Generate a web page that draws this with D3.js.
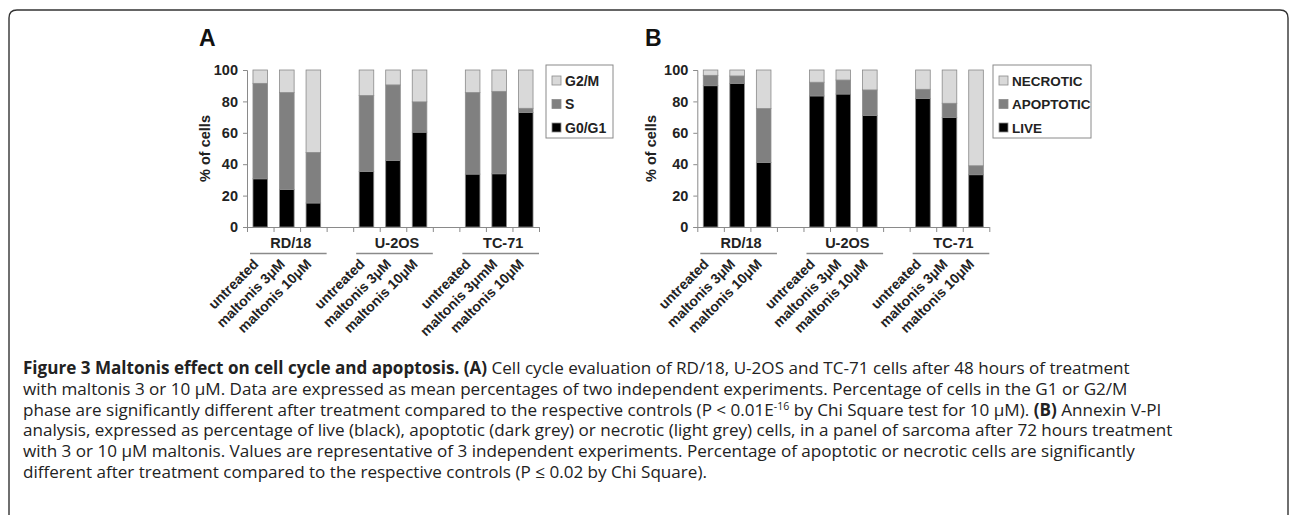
<!DOCTYPE html>
<html>
<head>
<meta charset="utf-8">
<script src="https://cdn.jsdelivr.net/npm/d3@7"></script>
<style>
  body { margin: 0; background: #fff; }
  svg text { font-family: "Liberation Sans", Arial, sans-serif; }
  .cap { font-family: "Open Sans", "Noto Sans", sans-serif; fill: #222; }
</style>
</head>
<body>
<script>
// categories
var groups = ['RD/18', 'U-2OS', 'TC-71'];
var labelsA = ['untreated', 'maltonis 3μM', 'maltonis 10μM',
               'untreated', 'maltonis 3μM', 'maltonis 10μM',
               'untreated', 'maltonis 3μmM', 'maltonis 10μM'];
var labelsB = ['untreated', 'maltonis 3μM', 'maltonis 10μM',
               'untreated', 'maltonis 3μM', 'maltonis 10μM',
               'untreated', 'maltonis 3μM', 'maltonis 10μM'];
var yTicks = [0, 20, 40, 60, 80, 100];

// panel A - cell cycle (%)
var g0g1   = [30.7, 23.9, 15.3, 35.4, 42.4, 60.4, 33.7, 33.9, 72.9];
var sPhase = [60.8, 61.7, 32.2, 48.3, 48.1, 19.3, 51.9, 52.5,  2.7];
var g2m    = [ 8.5, 14.4, 52.5, 16.3,  9.5, 20.3, 14.4, 13.6, 24.4];

// panel B - annexin V-PI (%)
var live      = [90.0, 91.5, 41.1, 83.5, 84.7, 71.0, 81.8, 69.7, 33.3];
var apoptotic = [ 6.6,  4.7, 34.3,  8.7,  8.9, 16.3,  5.9,  9.1,  5.7];
var necrotic  = [ 3.4,  3.8, 24.6,  7.8,  6.4, 12.7, 12.3, 21.2, 61.0];

var W = 1290, H = 515;
var black = '#000000', mid = '#808080', light = '#d9d9d9', edge = '#8a8a8a';

var svg = d3.select('body').append('svg')
    .attr('width', W)
    .attr('height', H)
;

// outer frame (open at the bottom)
svg.append('path')
    .attr('d', 'M9,' + (H + 5) + ' L9,18 Q9,10 17,10 L1280,10 Q1288,10 1288,18 L1288,' + (H + 5))
    .attr('fill', 'none')
    .attr('stroke', '#333')
    .attr('stroke-width', 1.4)
;

var plotTop = 70, plotBottom = 227, plotW = 292;

var drawPanel = function (p) {
    var rows = p.values[0].map(function (d, i) {
        var r = { i: i };
        p.keys.forEach(function (k, j) { r[k] = p.values[j][i]; });
        return r;
    });
    var series = d3.stack().keys(p.keys)(rows);

    // 11 slots: 3 bars, gap, 3 bars, gap, 3 bars
    var slot = function (i) { return i + Math.floor(i / 3); };
    var x = d3.scaleBand().domain(d3.range(11)).range([p.x0, p.x0 + plotW])
        .paddingInner(0.45).paddingOuter(0.225);
    var xEdge = d3.scaleLinear().domain([0, 11]).range([p.x0, p.x0 + plotW]);
    var y = d3.scaleLinear().domain([0, 100]).range([plotBottom, plotTop]);

    var g = svg.append('g');

    g.append('text')
        .attr('x', p.letterX).attr('y', 46)
        .style('font-size', '23px').style('font-weight', 'bold')
        .attr('fill', '#111')
        .text(p.letter);

    g.selectAll('g.layer')
        .data(series)
        .enter().append('g')
            .attr('class', 'layer')
            .attr('fill', function (d, i) { return p.colors[i]; })
        .selectAll('rect')
        .data(function (d) { return d; })
        .enter().append('rect')
            .attr('x', function (d, i) { return x(slot(i)); })
            .attr('y', function (d) { return y(d[1]); })
            .attr('width', x.bandwidth())
            .attr('height', function (d) { return y(d[0]) - y(d[1]); })
            .attr('stroke', edge)
            .attr('stroke-width', 0.8)
    ;

    var yAxis = g.append('g')
        .attr('transform', 'translate(' + p.x0 + ',0)')
        .call(d3.axisLeft(y).tickValues(yTicks).tickSize(4).tickPadding(5));
    yAxis.select('.domain').attr('stroke', edge);
    yAxis.selectAll('line').attr('stroke', edge);
    yAxis.selectAll('text')
        .style('font-size', '14.5px').style('font-weight', 'bold')
        .style('font-family', '"Liberation Sans", Arial, sans-serif')
        .attr('fill', '#222');

    var xAxis = g.append('g')
        .attr('transform', 'translate(0,' + plotBottom + ')')
        .call(d3.axisBottom(xEdge).tickValues(d3.range(12)).tickSize(5).tickSizeOuter(0).tickFormat(''));
    xAxis.select('.domain').attr('stroke', edge);
    xAxis.selectAll('line').attr('stroke', edge);

    g.append('text')
        .attr('transform', 'translate(' + p.titleX + ',' + (plotTop + plotBottom) / 2 + ') rotate(-90)')
        .attr('text-anchor', 'middle')
        .style('font-size', '14.5px').style('font-weight', 'bold')
        .attr('fill', '#222')
        .text('% of cells');

    // group names with underline
    groups.forEach(function (name, k) {
        var a = xEdge(k * 4), b = xEdge(k * 4 + 3);
        g.append('text')
            .attr('x', (a + b) / 2 + 4).attr('y', 248)
            .attr('text-anchor', 'middle')
            .style('font-size', '14.5px').style('font-weight', 'bold')
            .attr('fill', '#222')
            .text(name);
        g.append('line')
            .attr('x1', a + 3).attr('x2', b)
            .attr('y1', 253.5).attr('y2', 253.5)
            .attr('stroke', '#8a8a8a').attr('stroke-width', 1.6);
    });

    // rotated treatment labels
    g.selectAll('text.tl')
        .data(p.labels)
        .enter().append('text')
            .attr('class', 'tl')
            .attr('text-anchor', 'end')
            .attr('transform', function (d, i) {
                return 'translate(' + (x(slot(i)) + x.bandwidth() / 2 - 1) + ',265) rotate(-45)';
            })
            .style('font-size', '14px').style('font-weight', 'bold')
            .attr('fill', '#222')
            .text(function (d) { return d; })
    ;

    // legend
    var lg = g.append('g').attr('transform', 'translate(' + p.legendX + ',65)');
    lg.append('rect')
        .attr('width', p.legendW).attr('height', 73)
        .attr('fill', '#fff').attr('stroke', '#8a8a8a');
    var items = p.keys.slice().reverse();
    var cols = p.colors.slice().reverse();
    items.forEach(function (k, j) {
        var cy = 15.5 + j * 23.5;
        lg.append('rect')
            .attr('x', 6).attr('y', cy - 4.5)
            .attr('width', 9).attr('height', 9)
            .attr('fill', cols[j]).attr('stroke', edge).attr('stroke-width', 0.8);
        lg.append('text')
            .attr('x', 19).attr('y', cy + 5)
            .style('font-size', p.legendFont).style('font-weight', 'bold')
            .attr('fill', '#222')
            .text(p.names[items.length - 1 - j]);
    });
};

drawPanel({
    x0: 247, letter: 'A', letterX: 199, titleX: 210,
    keys: ['g0g1', 's', 'g2m'], names: ['G0/G1', 'S', 'G2/M'],
    values: [g0g1, sPhase, g2m], colors: [black, mid, light],
    labels: labelsA, legendX: 546, legendW: 67, legendFont: '14px'
});

drawPanel({
    x0: 697.3, letter: 'B', letterX: 645, titleX: 656,
    keys: ['live', 'apop', 'necro'], names: ['LIVE', 'APOPTOTIC', 'NECROTIC'],
    values: [live, apoptotic, necrotic], colors: [black, mid, light],
    labels: labelsB, legendX: 993, legendW: 98, legendFont: '13.5px'
});

// caption
var caption = [
    [['Figure 3 Maltonis effect on cell cycle and apoptosis. (A)', true], [' Cell cycle evaluation of RD/18, U-2OS and TC-71 cells after 48 hours of treatment', false]],
    [['with maltonis 3 or 10 μM. Data are expressed as mean percentages of two independent experiments. Percentage of cells in the G1 or G2/M', false]],
    [['phase are significantly different after treatment compared to the respective controls (P < 0.01E', false], ['-16', 'sup'], [' by Chi Square test for 10 μM). ', 'down'], ['(B)', true], [' Annexin V-PI', false]],
    [['analysis, expressed as percentage of live (black), apoptotic (dark grey) or necrotic (light grey) cells, in a panel of sarcoma after 72 hours treatment', false]],
    [['with 3 or 10 μM maltonis. Values are representative of 3 independent experiments. Percentage of apoptotic or necrotic cells are significantly', false]],
    [['different after treatment compared to the respective controls (P ≤ 0.02 by Chi Square).', false]]
];

var capG = svg.append('g').attr('class', 'cap');
var capSize = 15;
caption.forEach(function (line, n) {
    var t = capG.append('text')
        .attr('class', 'cap')
        .attr('x', 23)
        .attr('y', 374 + n * 20.8)
        .style('font-family', '"Open Sans", "Noto Sans", sans-serif');
    line.forEach(function (seg) {
        var s = t.append('tspan').text(seg[0]);
        if (seg[1] === true) s.style('font-weight', 'bold');
        if (seg[1] === 'sup') s.attr('dy', -6).style('font-size', '0.62em');
        if (seg[1] === 'down') s.attr('dy', 6);
    });
});
capG.selectAll('text').style('font-size', capSize + 'px');
var w1 = capG.select('text').node().getComputedTextLength();
capSize = capSize * 1108 / w1;
capG.selectAll('text').style('font-size', capSize + 'px');
</script>
</body>
</html>
